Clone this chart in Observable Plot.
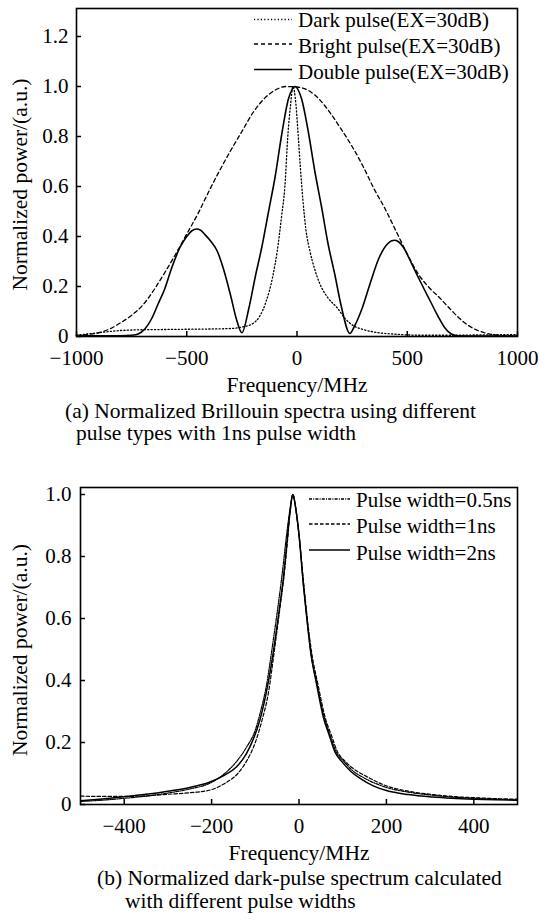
<!DOCTYPE html>
<html><head><meta charset="utf-8">
<script src="https://cdn.jsdelivr.net/npm/d3@7"></script>
<script src="https://cdn.jsdelivr.net/npm/@observablehq/plot@0.6"></script>
<style>
body{margin:0;background:#fff;font-family:"Liberation Serif","Times New Roman",serif;}
#wrap{position:relative;width:539px;height:921px;overflow:hidden;}
#wrap svg{position:absolute;left:0;}
.cap{position:absolute;font-size:21.5px;line-height:22px;color:#000;white-space:nowrap;}
</style></head><body><div id="wrap"></div>
<script>
// ---------- Chart (a) data ----------
const xTicksA = [-1000, -500, 0, 500, 1000];
const yTicksA = [0, 0.2, 0.4, 0.6, 0.8, 1.0, 1.2];
const seriesA = ["Dark pulse(EX=30dB)", "Bright pulse(EX=30dB)", "Double pulse(EX=30dB)"];

const darkF = [-1000,-950,-900,-850,-800,-700,-600,-500,-400,-300,-250,-200,-170,-140,-110,-90,-70,-55,-41,-30,-18,-5,5,15,27,40,59,80,104,140,181,220,254,300,363,450,558,700,800,900,1000];
const darkV = [0.005,0.01,0.015,0.02,0.024,0.027,0.028,0.029,0.03,0.032,0.038,0.052,0.08,0.14,0.24,0.34,0.48,0.6,0.81,0.92,1.0,0.93,0.81,0.68,0.544,0.43,0.34,0.27,0.21,0.155,0.116,0.07,0.044,0.028,0.016,0.009,0.005,0.005,0.006,0.007,0.008];

const brightF = [-1000,-950,-900,-850,-800,-750,-700,-650,-600,-550,-500,-450,-400,-350,-300,-250,-200,-150,-100,-50,0,50,100,150,200,250,300,350,400,450,500,550,600,650,700,750,800,850,900,950,1000];
const brightV = [0.004,0.008,0.015,0.03,0.055,0.085,0.125,0.185,0.255,0.33,0.41,0.49,0.58,0.665,0.745,0.82,0.895,0.95,0.985,1.0,0.998,0.985,0.95,0.895,0.83,0.76,0.68,0.59,0.51,0.42,0.33,0.25,0.195,0.152,0.105,0.062,0.032,0.015,0.006,0.003,0.002];

const doubleF = [-1000,-900,-800,-750,-720,-690,-660,-630,-600,-570,-531,-500,-478,-455,-437,-420,-390,-363,-330,-300,-275,-250,-219,-189,-159,-129,-99,-69,-39,-24,-9,6,21,51,81,111,141,171,201,240,260,290,331,370,410,427,444,462,480,526,565,603,640,670,700,730,800,900,1000];
const doubleV = [0.003,0.003,0.003,0.005,0.01,0.03,0.07,0.13,0.19,0.27,0.356,0.4,0.422,0.43,0.425,0.41,0.38,0.344,0.26,0.16,0.07,0.015,0.11,0.24,0.36,0.5,0.64,0.81,0.95,0.985,1.0,0.985,0.95,0.82,0.66,0.52,0.37,0.25,0.12,0.012,0.04,0.1,0.21,0.31,0.37,0.382,0.385,0.378,0.36,0.28,0.21,0.144,0.08,0.035,0.01,0.003,0.002,0.002,0.002];

// ---------- Chart (b) data ----------
const xTicksB = [-400, -200, 0, 200, 400];
const yTicksB = [0, 0.2, 0.4, 0.6, 0.8, 1.0];
const seriesB = ["Pulse width=0.5ns", "Pulse width=1ns", "Pulse width=2ns"];

const w05F = [-500,-450,-400,-350,-300,-250,-205,-170,-145,-120,-100,-88,-75,-62,-48,-38,-30,-21,-14,-8,0,10,18,27,41,58,72,85,102,122,150,200,250,306,350,400,450,500];
const w05V = [0.01,0.014,0.02,0.027,0.037,0.05,0.068,0.1,0.135,0.185,0.24,0.3,0.38,0.5,0.64,0.75,0.85,0.95,1.0,0.96,0.87,0.71,0.6,0.49,0.39,0.28,0.22,0.17,0.14,0.11,0.085,0.055,0.04,0.03,0.024,0.02,0.017,0.015];

const w1F = [-500,-450,-400,-350,-300,-250,-205,-170,-140,-120,-100,-85,-70,-57,-44,-34,-27,-20,-14,-8,0,11,19,29,43,60,75,88,105,125,155,200,250,306,350,400,450,500];
const w1V = [0.027,0.026,0.026,0.028,0.033,0.038,0.046,0.068,0.1,0.14,0.2,0.27,0.36,0.49,0.63,0.74,0.84,0.95,1.0,0.96,0.87,0.71,0.6,0.49,0.39,0.28,0.22,0.17,0.14,0.115,0.09,0.06,0.043,0.032,0.026,0.022,0.019,0.017];

const w2F = [-500,-450,-400,-350,-300,-250,-205,-170,-144,-120,-106,-90,-75,-59,-45,-35,-28,-20,-14,-8,0,10,18,27,40,56,70,82,100,120,139,170,200,250,306,350,400,450,500];
const w2V = [0.012,0.018,0.025,0.033,0.043,0.055,0.072,0.095,0.12,0.165,0.206,0.27,0.36,0.49,0.63,0.74,0.84,0.95,1.0,0.96,0.87,0.71,0.6,0.49,0.39,0.28,0.22,0.17,0.135,0.105,0.085,0.06,0.045,0.032,0.024,0.02,0.017,0.015,0.014];

// ---------- helpers ----------
const rows = (f, v) => f.map((x, i) => ({f: x, v: v[i]}));
const fmtX = d => d < 0 ? "\u2212" + Math.abs(d) : String(d);
const fmtY = d => d === 0 ? "0" : d.toFixed(1);
const FONT = "'Liberation Serif','Times New Roman',serif";
const dashA = ["1.2,2.2", "4,3", null];
const dashB = ["3,1.2,1,1.2", "3.5,2", null];

const wrap = document.getElementById("wrap");

function addLegend(svg, items, dashes, x0, x1, xt, ys, yt) {
  const g = d3.select(svg).append("g").attr("text-anchor", "start");
  items.forEach((t, i) => {
    g.append("line").attr("x1", x0).attr("x2", x1).attr("y1", ys[i]).attr("y2", ys[i])
      .attr("stroke", "#000").attr("stroke-width", 1.3)
      .attr("stroke-dasharray", dashes[i]);
    g.append("text").attr("x", xt).attr("y", yt[i]).text(t)
      .attr("text-anchor", "start")
      .attr("font-family", FONT).attr("font-size", 21).attr("fill", "#000");
  });
}

// ---------- Chart (a) ----------
const chartA = Plot.plot({
  width: 539, height: 400,
  marginTop: 8, marginRight: 22, marginBottom: 64, marginLeft: 76,
  style: {fontFamily: FONT, fontSize: "21px", color: "#000", background: "transparent", overflow: "visible"},
  x: {domain: [-1000, 1000]},
  y: {domain: [0, 1.312]},
  marks: [
    Plot.line(rows(darkF, darkV), {x: "f", y: "v", stroke: "#000", strokeWidth: 1.3, strokeDasharray: dashA[0], curve: "monotone-x"}),
    Plot.line(rows(brightF, brightV), {x: "f", y: "v", stroke: "#000", strokeWidth: 1.3, strokeDasharray: dashA[1], curve: "monotone-x"}),
    Plot.line(rows(doubleF, doubleV), {x: "f", y: "v", stroke: "#000", strokeWidth: 1.6, curve: "monotone-x"}),
    Plot.frame({stroke: "#000", strokeWidth: 1.6}),
    Plot.axisX({ticks: xTicksA, tickFormat: fmtX, tickSize: -5, tickPadding: 19, label: null, strokeWidth: 1.5}),
    Plot.axisY({ticks: yTicksA, tickFormat: fmtY, tickSize: -5, tickPadding: 13, label: null, strokeWidth: 1.5}),
    Plot.text(["Frequency/MHz"], {frameAnchor: "bottom", dy: 49, lineAnchor: "middle", textAnchor: "middle", fontSize: 21.5}),
    Plot.text(["Normalized power/(a.u.)"], {frameAnchor: "left", dx: -56, dy: 12, rotate: -90, textAnchor: "middle", lineAnchor: "middle", fontSize: 21.5})
  ]
});
chartA.style.top = "0px";
addLegend(chartA, seriesA, dashA, 254, 292, 298, [19.5, 44, 69.5], [27, 53, 79]);
wrap.appendChild(chartA);

// ---------- Chart (b) ----------
const chartB = Plot.plot({
  width: 539, height: 400,
  marginTop: 7, marginRight: 22, marginBottom: 76, marginLeft: 80,
  style: {fontFamily: FONT, fontSize: "21px", color: "#000", background: "transparent", overflow: "visible"},
  x: {domain: [-500, 500]},
  y: {domain: [0, 1.0226]},
  marks: [
    Plot.line(rows(w05F, w05V), {x: "f", y: "v", stroke: "#000", strokeWidth: 1.2, strokeDasharray: dashB[0], curve: "monotone-x", clip: true}),
    Plot.line(rows(w1F, w1V), {x: "f", y: "v", stroke: "#000", strokeWidth: 1.2, strokeDasharray: dashB[1], curve: "monotone-x", clip: true}),
    Plot.line(rows(w2F, w2V), {x: "f", y: "v", stroke: "#000", strokeWidth: 1.5, curve: "monotone-x", clip: true}),
    Plot.frame({stroke: "#000", strokeWidth: 1.6}),
    Plot.axisX({ticks: xTicksB, tickFormat: fmtX, tickSize: -5, tickPadding: 19, label: null, strokeWidth: 1.5}),
    Plot.axisY({ticks: yTicksB, tickFormat: fmtY, tickSize: -5, tickPadding: 14, label: null, strokeWidth: 1.5}),
    Plot.text(["Frequency/MHz"], {frameAnchor: "bottom", dy: 49, lineAnchor: "middle", textAnchor: "middle", fontSize: 21.5}),
    Plot.text(["Normalized power/(a.u.)"], {frameAnchor: "left", dx: -60, dy: 4, rotate: -90, textAnchor: "middle", lineAnchor: "middle", fontSize: 21.5})
  ]
});
chartB.style.top = "480px";
addLegend(chartB, seriesB, dashB, 309, 350, 356, [19, 44, 70], [27, 53, 80]);
wrap.appendChild(chartB);

// ---------- captions ----------
const captions = [
  {t: "(a) Normalized Brillouin spectra using different", x: 65, y: 400},
  {t: "pulse types with 1ns pulse width", x: 76, y: 422},
  {t: "(b) Normalized dark-pulse spectrum calculated", x: 97, y: 867},
  {t: "with different pulse widths", x: 125, y: 890}
];
captions.forEach(c => {
  const d = document.createElement("div");
  d.className = "cap";
  d.style.left = c.x + "px";
  d.style.top = c.y + "px";
  d.textContent = c.t;
  wrap.appendChild(d);
});
</script>
</body></html>
